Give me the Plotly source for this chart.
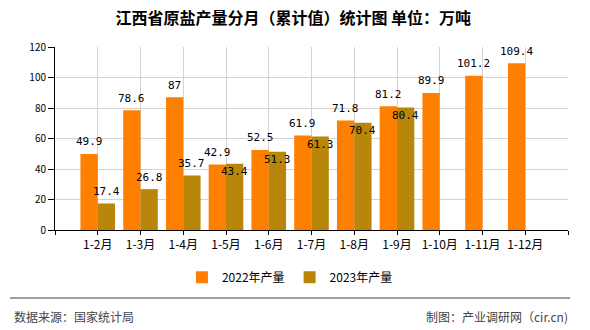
import plotly.graph_objects as go

# Monthly cumulative crude salt output, Jiangxi (10k tonnes)
categories = ["1-2月", "1-3月", "1-4月", "1-5月", "1-6月", "1-7月",
              "1-8月", "1-9月", "1-10月", "1-11月", "1-12月"]
output_2022 = [49.9, 78.6, 87, 42.9, 52.5, 61.9, 71.8, 81.2, 89.9, 101.2, 109.4]
output_2023 = [17.4, 26.8, 35.7, 43.4, 51.3, 61.3, 70.4, 80.4]
series_names = ["2022年产量", "2023年产量"]
y_ticks = [0, 20, 40, 60, 80, 100, 120]

ORANGE = "#FF8000"
GOLD = "#B8860B"
CJK = "Noto Sans CJK SC"
MONO = "DejaVu Sans Mono"

positions = list(range(1, len(categories) + 1))
pos_2023 = positions[:len(output_2023)]

fig = go.Figure()
fig.add_trace(go.Bar(x=positions, y=output_2022, name=series_names[0],
                     marker=dict(color=ORANGE, line=dict(width=0))))
fig.add_trace(go.Bar(x=pos_2023, y=output_2023, name=series_names[1],
                     marker=dict(color=GOLD, line=dict(width=0))))

# value labels: half a bar width either side of the category centre
half_bar = 8.7
annotations = []
for x, v in zip(positions, output_2022):
    annotations.append(dict(x=x, y=v, xref="x", yref="y", text=f"{v:g}",
                            showarrow=False, xshift=-half_bar, yshift=12,
                            yanchor="middle", font=dict(family=MONO, size=11, color="#000")))
for i, (x, v) in enumerate(zip(pos_2023, output_2023)):
    # labels that would collide with the neighbouring 2022 label drop inside the bar
    close = abs(v - output_2022[i]) < 10
    annotations.append(dict(x=x, y=v, xref="x", yref="y", text=f"{v:g}",
                            showarrow=False, xshift=half_bar,
                            yshift=-8 if close else 12,
                            yanchor="middle", font=dict(family=MONO, size=11, color="#000")))

# footer texts
annotations.append(dict(x=-0.0838, y=-0.47, xref="paper", yref="paper",
                        text="数据来源：国家统计局", showarrow=False, xanchor="left",
                        yanchor="middle", font=dict(family=CJK, size=12, color="#444")))
annotations.append(dict(x=1.0039, y=-0.47, xref="paper", yref="paper",
                        text="制图：产业调研网（cir.cn)", showarrow=False, xanchor="right",
                        yanchor="middle", font=dict(family=CJK, size=12, color="#444")))

fig.update_layout(
    width=590, height=330,
    margin=dict(l=55, r=22, t=47, b=100, pad=0),
    paper_bgcolor="white", plot_bgcolor="white",
    barmode="group", bargap=0.19, bargroupgap=0,
    title=dict(text="江西省原盐产量分月（累计值）统计图 单位：万吨",
               x=0.497, xanchor="center", y=0.944, yanchor="middle",
               font=dict(family=CJK, size=16, color="#000", weight="bold")),
    xaxis=dict(range=[0, len(categories) + 1],
               tickvals=[0] + positions + [len(categories) + 1],
               ticktext=[""] + categories + [""],
               showgrid=True, gridcolor="#D3D3D3", gridwidth=1,
               showline=True, linecolor="#000", linewidth=1,
               ticks="outside", ticklen=4, tickcolor="#000",
               tickfont=dict(family=CJK, size=12, color="#000"),
               zeroline=False, fixedrange=True),
    yaxis=dict(range=[0, 120], tickvals=y_ticks,
               showgrid=True, gridcolor="#D3D3D3", gridwidth=1,
               showline=True, linecolor="#000", linewidth=1,
               ticks="outside", ticklen=6, tickcolor="#000",
               tickfont=dict(family=CJK, size=10, color="#000"),
               zeroline=False, fixedrange=True),
    legend=dict(orientation="h", x=0.458, xanchor="center", y=-0.258, yanchor="middle",
                font=dict(family=CJK, size=12, color="#000"),
                itemwidth=30, traceorder="normal", bgcolor="rgba(0,0,0,0)"),
    showlegend=True,
    annotations=annotations,
    shapes=[dict(type="line", xref="paper", yref="paper",
                 x0=-0.0877, x1=1.0039, y0=-0.3716, y1=-0.3716,
                 line=dict(color="#808080", width=1.5))],
)

fig.write_html("out.html", config={"displayModeBar": False})
